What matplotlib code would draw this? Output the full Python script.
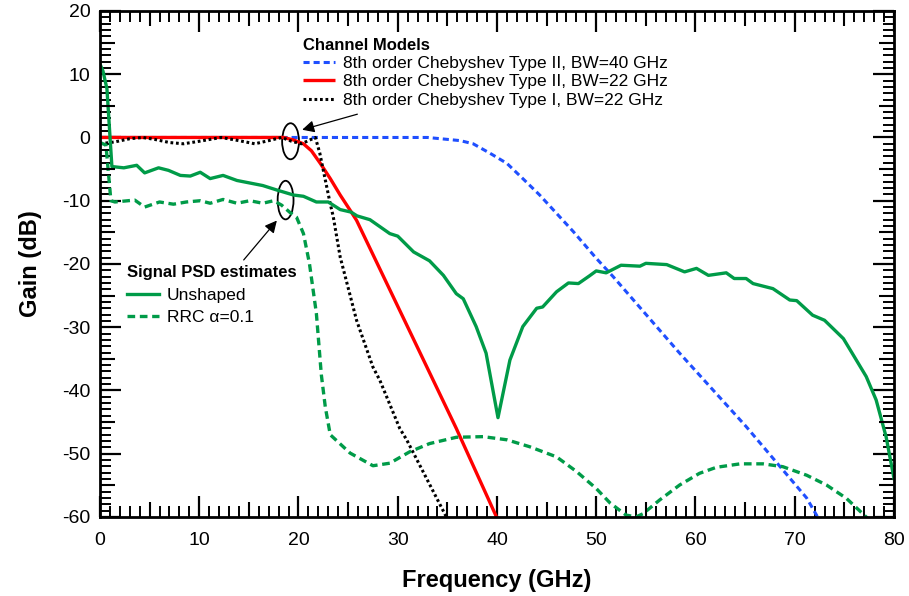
import matplotlib
matplotlib.use("Agg")
import matplotlib.pyplot as plt
from matplotlib.patches import Ellipse

plt.rcParams['font.family'] = ['Liberation Sans', 'DejaVu Sans']
plt.rcParams['axes.unicode_minus'] = False

# ---------------- data ----------------
unshaped_f = [0, 0.3, 0.7, 1.2, 2.4, 3.7, 4.5, 5.9, 6.9, 8.1, 9.1, 10.1, 11.1, 12.4, 13.8,
              15.1, 16.4, 17.8, 19.5, 20.5, 21.8, 23.0, 24.2, 25.3, 25.9, 27.2, 29.2, 30.0,
              31.6, 33.2, 34.6, 35.9, 36.6, 37.9, 38.9, 40.1, 41.3, 42.6, 44.0, 44.6, 46.0,
              47.2, 48.2, 49.3, 50.0, 51.0, 52.5, 54.4, 55.0, 57.1, 58.9, 60.1, 61.3, 63.1,
              63.9, 65.1, 65.8, 67.8, 69.5, 70.2, 71.8, 73.0, 74.9, 75.9, 77.2, 78.2, 79.2, 80.0]
unshaped_g = [11.6, 10.5, 7.7, -4.6, -4.8, -4.4, -5.6, -4.8, -5.2, -6.0, -6.1, -5.5, -6.5, -6.0, -6.8,
              -7.2, -7.6, -8.3, -9.1, -9.3, -10.2, -10.2, -11.4, -11.8, -12.4, -13.0, -15.2, -15.6,
              -18.1, -19.5, -21.8, -24.7, -25.5, -29.9, -34.1, -44.3, -35.2, -29.9, -27.0, -26.8, -24.4,
              -23.0, -23.1, -21.9, -21.1, -21.4, -20.2, -20.35, -19.9, -20.1, -21.25, -20.7, -21.8, -21.4,
              -22.3, -22.3, -23.1, -23.9, -25.7, -25.8, -28.1, -28.9, -31.8, -34.4, -37.8, -41.5, -47.3, -53.9]

rrc_f = [0, 0.6, 1.1, 1.5, 3.5, 4.5, 6.0, 7.4, 8.7, 10.1, 11.1, 12.4, 13.8, 15.1, 16.4, 17.5,
         18.3, 19.1, 19.8, 20.5, 21.1, 21.8, 22.3, 22.7, 23.2, 25.2, 27.5, 29.2, 31.2, 33.2,
         35.9, 38.6, 41.0, 43.3, 46.0, 48.0, 50.0, 51.4, 53.0, 54.0, 54.7, 56.4, 58.4, 60.4,
         62.1, 64.5, 66.8, 68.8, 71.2, 73.2, 75.2, 77.2, 78.0]
rrc_g = [-0.8, -1.2, -10.0, -10.2, -9.9, -11.0, -10.2, -10.55, -10.2, -10.0, -10.4, -9.8, -10.4, -10.0, -10.4, -10.0,
         -10.7, -11.8, -12.6, -15.2, -19.9, -27.8, -37.5, -42.6, -47.0, -49.9, -51.9, -51.5, -49.7, -48.4,
         -47.4, -47.3, -47.8, -48.9, -50.5, -52.8, -55.5, -57.8, -59.7, -60.0, -59.5, -57.3, -54.95, -53.1,
         -52.15, -51.6, -51.6, -52.05, -53.4, -54.95, -57.05, -60.0, -61.5]

cheb2_40_f = [0, 33, 36.3, 37.6, 39.3, 41.0, 42.6, 44.3, 46.0, 47.7, 50.0, 51.7, 58.4, 65.1, 68.5, 71.2, 72.3, 73.0]
cheb2_40_g = [0, 0, -0.5, -1.0, -2.5, -4.1, -6.5, -9.1, -12.0, -14.9, -19.1, -22.0, -34.1, -45.7, -52.0, -57.0, -60.0, -61.2]

cheb2_22_f = [0, 18.5, 19.5, 20.5, 21.3, 22.2, 23.2, 24.2, 25.2, 25.85, 35.9, 39.95, 40.3]
cheb2_22_g = [0, 0, -0.4, -1.0, -2.1, -4.1, -6.5, -9.1, -11.5, -13.1, -46.0, -60.0, -61.2]

cheb1_22_f = [0, 1.5, 3.0, 4.3, 5.5, 7.0, 8.4, 10.0, 12.2, 14.0, 15.6, 17.0, 18.3, 19.3, 20.3, 21.0,
              21.7, 22.15, 22.5, 23.2, 23.5, 24.2, 25.85, 27.5, 28.2, 30.2, 30.9, 34.9, 35.3]
cheb1_22_g = [-1.0, -0.7, -0.2, 0, -0.3, -0.8, -1.0, -0.6, 0, -0.5, -1.0, -0.5, 0, -0.6, -1.0, -0.5,
              0, -2.5, -5.2, -10.5, -12.5, -18.9, -28.9, -36.3, -38.4, -46.0, -47.8, -60.0, -61.0]

channel_labels = ["8th order Chebyshev Type II, BW=40 GHz",
                  "8th order Chebyshev Type II, BW=22 GHz",
                  "8th order Chebyshev Type I, BW=22 GHz"]
signal_labels = ["Unshaped", "RRC \u03b1=0.1"]
x_ticks = [0, 10, 20, 30, 40, 50, 60, 70, 80]
y_ticks = [-60, -50, -40, -30, -20, -10, 0, 10, 20]

GREEN = "#009B48"
RED = "#FF0000"
BLUE = "#1F4FFF"

# ---------------- figure ----------------
fig = plt.figure(figsize=(9.09, 5.96), dpi=100)
pos = [0.110, 0.1326, 0.8735, 0.849]
ax = fig.add_axes(pos)

l_blue, = ax.plot(cheb2_40_f, cheb2_40_g, color=BLUE, lw=2.2, dashes=(2.0, 1.3))
l_red, = ax.plot(cheb2_22_f, cheb2_22_g, color=RED, lw=2.4, solid_capstyle='butt')
l_blk, = ax.plot(cheb1_22_f, cheb1_22_g, color='black', lw=2.2, dashes=(0.9, 0.9))
l_uns, = ax.plot(unshaped_f, unshaped_g, color=GREEN, lw=2.4)
l_rrc, = ax.plot(rrc_f, rrc_g, color=GREEN, lw=2.4, dashes=(2.3, 1.4))

ax.set_xlim(0, 80)
ax.set_ylim(-60, 20)
ax.set_xticks(x_ticks)
ax.set_yticks(y_ticks)
ax.set_xticks(range(0, 81, 1), minor=True)
ax.set_yticks(range(-60, 21, 1), minor=True)
ax.tick_params(which='major', direction='in', length=15, width=1.6, top=True, right=True,
               labelsize=14)
ax.tick_params(axis='x', which='major', pad=11)
ax.tick_params(axis='y', which='major', pad=7)
ax.tick_params(which='minor', direction='in', length=8, width=1.4, top=True, right=True)
for s in ax.spines.values():
    s.set_linewidth(2.0)

ax.set_xlabel("Frequency (GHz)", fontsize=17, fontweight='bold', labelpad=14)
ax.set_ylabel("Gain (dB)", fontsize=17, fontweight='bold', labelpad=14)

# medium ticks every 5
axm = fig.add_axes(pos)
axm.set_xlim(0, 80)
axm.set_ylim(-60, 20)
axm.set_xticks([v for v in range(5, 80, 10)])
axm.set_yticks([v for v in range(-55, 20, 10)])
axm.tick_params(direction='in', length=11, width=1.5, top=True, right=True,
                labelbottom=False, labelleft=False)
axm.patch.set_visible(False)
for s in axm.spines.values():
    s.set_visible(False)

# legends
leg1 = ax.legend([l_blue, l_red, l_blk], channel_labels, title="Channel Models",
                 title_fontproperties={'weight': 'bold', 'size': 12}, fontsize=12.5,
                 frameon=False, loc='upper left', bbox_to_anchor=(0.256, 0.946),
                 borderpad=0, borderaxespad=0, handlelength=1.85, handletextpad=0.45,
                 labelspacing=0.17, alignment='left')
ax.add_artist(leg1)
leg2 = ax.legend([l_uns, l_rrc], signal_labels, title="Signal PSD estimates",
                 title_fontproperties={'weight': 'bold', 'size': 12}, fontsize=12.5,
                 frameon=False, loc='upper left', bbox_to_anchor=(0.034, 0.497),
                 borderpad=0, borderaxespad=0, handlelength=1.85, handletextpad=0.45,
                 labelspacing=0.4, alignment='left')

# ellipses and arrows
ax.add_patch(Ellipse((19.2, -0.6), 1.7, 5.7, fill=False, ec='black', lw=1.3))
ax.add_patch(Ellipse((18.7, -9.9), 1.6, 6.1, fill=False, ec='black', lw=1.3))
ax.annotate("", xy=(20.1, 1.1), xytext=(26.2, 3.8),
            arrowprops=dict(arrowstyle='-|>', color='black', lw=0.9, mutation_scale=18))
ax.annotate("", xy=(18.0, -12.8), xytext=(14.3, -19.7),
            arrowprops=dict(arrowstyle='-|>', color='black', lw=0.9, mutation_scale=18))

fig.savefig("out.png", dpi=100)
